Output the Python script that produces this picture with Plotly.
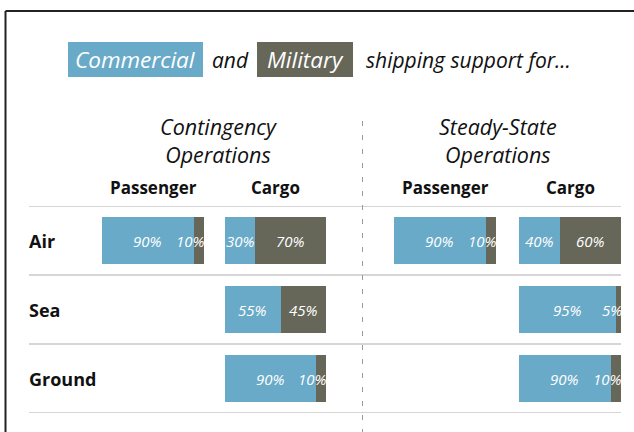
import plotly.graph_objects as go

# ---------------- data ----------------
modes = ["Air", "Sea", "Ground"]
group_titles = ["Contingency<br>Operations", "Steady-State<br>Operations"]
column_titles = ["Passenger", "Cargo"]
legend_words = ["Commercial", "and", "Military", "shipping support for..."]

# shares in percent (None = no bar drawn)
cont_pass_commercial = [90, None, None]
cont_pass_military = [10, None, None]
cont_cargo_commercial = [30, 55, 90]
cont_cargo_military = [70, 45, 10]
steady_pass_commercial = [90, None, None]
steady_pass_military = [10, None, None]
steady_cargo_commercial = [40, 95, 90]
steady_cargo_military = [60, 5, 10]

# ---------------- style / layout ----------------
W, H = 634, 432
BLUE = "#69aac8"
GRAY = "#666659"
FONT = "Open Sans"

def px(x):
    return x / W

def py(y):
    return 1 - y / H

panels = [
    (cont_pass_commercial, cont_pass_military, (102, 204)),
    (cont_cargo_commercial, cont_cargo_military, (225, 326)),
    (steady_pass_commercial, steady_pass_military, (394, 496)),
    (steady_cargo_commercial, steady_cargo_military, (519, 621)),
]

fig = go.Figure()
annotations = []
shapes = []
PCT_FONT = dict(family=FONT, size=15, color="white")

for i, (com, mil, (x0, x1)) in enumerate(panels):
    xa = "x" if i == 0 else f"x{i+1}"
    fig.add_trace(go.Bar(x=com, y=modes, orientation="h", marker=dict(color=BLUE, line=dict(width=0)),
                         xaxis=xa, yaxis="y", hoverinfo="skip"))
    fig.add_trace(go.Bar(x=mil, y=modes, orientation="h", marker=dict(color=GRAY, line=dict(width=0)),
                         xaxis=xa, yaxis="y", hoverinfo="skip"))
    key = "xaxis" if i == 0 else f"xaxis{i+1}"
    fig.layout[key] = dict(domain=[px(x0), px(x1)], range=[0, 100], visible=False,
                           anchor="y", fixedrange=True)
    # percentage labels
    for m, c, mm in zip(modes, com, mil):
        if c is None:
            continue
        annotations.append(dict(x=c / 2, y=m, xref=xa, yref="y", text=f"<i>{c}%</i>",
                                showarrow=False, xanchor="center", yanchor="middle",
                                font=PCT_FONT))
        if mm >= 25:
            annotations.append(dict(x=c + mm / 2, y=m, xref=xa, yref="y", text=f"<i>{mm}%</i>",
                                    showarrow=False, xanchor="center", yanchor="middle",
                                    font=PCT_FONT))
        else:
            annotations.append(dict(x=c + mm, y=m, xref=xa, yref="y", text=f"<i>{mm}%</i>",
                                    showarrow=False, xanchor="right", yanchor="middle", xshift=3,
                                    font=PCT_FONT))
    # column header
    annotations.append(dict(x=px((x0 + x1) / 2), y=py(188), xref="paper", yref="paper",
                            text=f"<b>{column_titles[i % 2]}</b>", showarrow=False,
                            xanchor="center", yanchor="middle",
                            font=dict(family=FONT, size=17, color="#111")))

fig.update_layout(
    yaxis=dict(domain=[py(413), py(206)], type="category", categoryorder="array",
               categoryarray=modes, range=[2.5, -0.5], showticklabels=False,
               showgrid=False, zeroline=False, fixedrange=True, anchor="x"),
)

# row labels
for m in modes:
    annotations.append(dict(x=px(27), y=m, xref="paper", yref="y", text=f"<b>{m}</b>",
                            showarrow=False, xanchor="left", yanchor="middle",
                            font=dict(family=FONT, size=18, color="#111")))

# row separators (between categories)
for k in range(len(modes) + 1):
    shapes.append(dict(type="line", xref="paper", yref="y", x0=px(29), x1=px(621),
                       y0=k - 0.5, y1=k - 0.5, line=dict(color="#c9c9c9", width=1.5)))

# group titles
for gx, gt in zip((218, 498), group_titles):
    annotations.append(dict(x=px(gx), y=py(141), xref="paper", yref="paper",
                            text=f"<i>{gt}</i>", showarrow=False,
                            xanchor="center", yanchor="middle",
                            font=dict(family=FONT, size=21.5, color="#111")))

# legend line
shapes.append(dict(type="rect", xref="paper", yref="paper", x0=px(68), x1=px(203),
                   y0=py(77), y1=py(42), fillcolor=BLUE, line=dict(width=0), layer="below"))
shapes.append(dict(type="rect", xref="paper", yref="paper", x0=px(257), x1=px(353),
                   y0=py(77), y1=py(42), fillcolor=GRAY, line=dict(width=0), layer="below"))
legend_pos = [(135.5, "center", "white", 22.5), (230.5, "center", "#111", 21),
              (305, "center", "white", 22.5), (364, "left", "#111", 21)]
for word, (lx, anc, col, sz) in zip(legend_words, legend_pos):
    annotations.append(dict(x=px(lx), y=py(59.5), xref="paper", yref="paper",
                            text=f"<i>{word}</i>", showarrow=False, xanchor=anc,
                            yanchor="middle", font=dict(family=FONT, size=sz, color=col)))

# dashed divider
shapes.append(dict(type="line", xref="paper", yref="paper", x0=px(362.5), x1=px(362.5),
                   y0=py(121), y1=0, line=dict(color="#9a9a9a", width=1, dash="5px,9px")))

# outer frame (left and top)
shapes.append(dict(type="line", xref="paper", yref="paper", x0=px(5.5), x1=px(5.5),
                   y0=0, y1=py(11), line=dict(color="#222", width=2)))
shapes.append(dict(type="line", xref="paper", yref="paper", x0=px(5.5), x1=1,
                   y0=py(11), y1=py(11), line=dict(color="#222", width=2)))

fig.update_layout(
    width=W, height=H, margin=dict(l=0, r=0, t=0, b=0),
    barmode="stack", bargap=0.33, showlegend=False,
    plot_bgcolor="white", paper_bgcolor="white",
    annotations=annotations, shapes=shapes,
)

fig.write_html("out.html", config={"displayModeBar": False, "staticPlot": True},
               post_script="document.body.style.margin='0px';document.body.style.overflow='hidden';")
